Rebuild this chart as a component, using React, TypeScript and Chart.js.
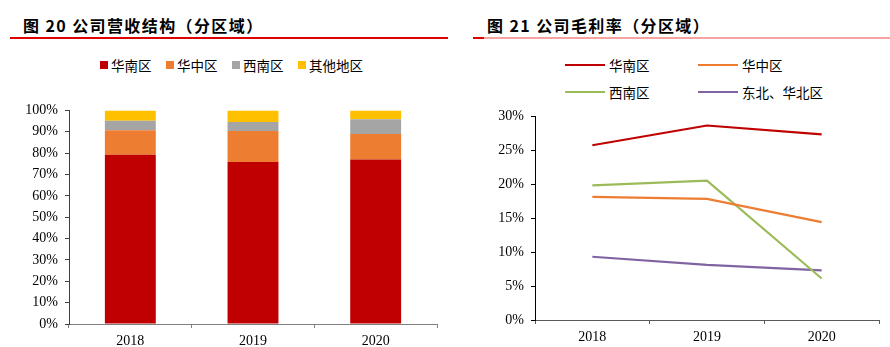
import React, { useEffect, useRef } from "react";
import { Chart, registerables } from "chart.js";

Chart.register(...registerables);

// ---- Data ----
const years = ["2018", "2019", "2020"];

const revenueRegions = ["华南区", "华中区", "西南区", "其他地区"];
const southRevenue = [0.792, 0.759, 0.770];
const centralRevenue = [0.115, 0.144, 0.119];
const southwestRevenue = [0.045, 0.043, 0.069];
const otherRevenue = [0.048, 0.054, 0.042];
const revenueColors = ["#C00000", "#ED7D31", "#A5A5A5", "#FFC000"];

const marginRegions = ["华南区", "华中区", "西南区", "东北、华北区"];
const southMargin = [0.257, 0.286, 0.273];
const centralMargin = [0.181, 0.178, 0.144];
const southwestMargin = [0.198, 0.205, 0.061];
const northMargin = [0.093, 0.081, 0.073];
const marginColors = ["#C00000", "#ED7D31", "#9BBB59", "#8064A2"];

const revenueTickStep = 0.1;
const marginTickStep = 0.05;

const title1 = "图 20 公司营收结构（分区域）";
const title2 = "图 21 公司毛利率（分区域）";

const SERIF = "'Liberation Serif', 'Times New Roman', serif";
const CJK = "'Noto Sans CJK SC', 'Noto Sans', sans-serif";

const pct = (v: number) => `${Math.round(v * 100)}%`;

function RevenueChart() {
  const ref = useRef<HTMLCanvasElement | null>(null);
  useEffect(() => {
    if (!ref.current) return;
    const series = [southRevenue, centralRevenue, southwestRevenue, otherRevenue];
    const chart = new Chart(ref.current, {
      type: "bar",
      data: {
        labels: years,
        datasets: series.map((d, i) => ({
          label: revenueRegions[i],
          data: d,
          backgroundColor: revenueColors[i],
          borderWidth: 0,
          barPercentage: 0.415,
          categoryPercentage: 1,
        })),
      },
      options: {
        animation: false,
        responsive: false,
        maintainAspectRatio: false,
        layout: { padding: { top: 13, right: 8, left: 0, bottom: 0 } },
        plugins: { legend: { display: false }, tooltip: { enabled: false } },
        scales: {
          x: {
            stacked: true,
            afterFit: (s: any) => { s.height = 23; },
            grid: { drawOnChartArea: false, drawTicks: true, tickLength: 4, color: "#808080", offset: true },
            border: { display: true, color: "#808080", width: 1 },
            ticks: { color: "#000", font: { family: SERIF, size: 14 }, padding: 5 },
          },
          y: {
            stacked: true,
            min: 0,
            max: 1,
            afterFit: (s: any) => { s.width = 69; },
            grid: { drawOnChartArea: false, drawTicks: true, tickLength: 4, color: "#404040" },
            border: { display: true, color: "#404040", width: 1 },
            ticks: { stepSize: revenueTickStep, color: "#000", font: { family: SERIF, size: 14 }, padding: 7, callback: (v: any) => pct(Number(v)) },
          },
        },
      },
    });
    return () => chart.destroy();
  }, []);
  return <canvas ref={ref} width={445} height={252} style={{ position: "absolute", left: 0, top: 95, width: 445, height: 252 }} />;
}

function MarginChart() {
  const ref = useRef<HTMLCanvasElement | null>(null);
  useEffect(() => {
    if (!ref.current) return;
    const series = [southMargin, centralMargin, southwestMargin, northMargin];
    const chart = new Chart(ref.current, {
      type: "line",
      data: {
        labels: years,
        datasets: series.map((d, i) => ({
          label: marginRegions[i],
          data: d,
          borderColor: marginColors[i],
          backgroundColor: marginColors[i],
          borderWidth: 2.2,
          pointRadius: 0,
          tension: 0,
          fill: false,
        })),
      },
      options: {
        animation: false,
        responsive: false,
        maintainAspectRatio: false,
        layout: { padding: { top: 21, right: 11, left: 0, bottom: 0 } },
        plugins: { legend: { display: false }, tooltip: { enabled: false } },
        scales: {
          x: {
            offset: true,
            afterFit: (s: any) => { s.height = 27; },
            grid: { drawOnChartArea: false, drawTicks: true, tickLength: 4, color: "#595959", offset: true },
            border: { display: true, color: "#595959", width: 1 },
            ticks: { color: "#000", font: { family: SERIF, size: 14 }, padding: 5 },
          },
          y: {
            min: 0,
            max: 0.3,
            afterFit: (s: any) => { s.width = 65; },
            grid: { drawOnChartArea: false, drawTicks: true, tickLength: 4, color: "#000" },
            border: { display: true, color: "#000", width: 1 },
            ticks: { stepSize: marginTickStep, color: "#000", font: { family: SERIF, size: 14 }, padding: 7, callback: (v: any) => pct(Number(v)) },
          },
        },
      },
    });
    return () => chart.destroy();
  }, []);
  return <canvas ref={ref} width={420} height={252} style={{ position: "absolute", left: 470, top: 95, width: 420, height: 252 }} />;
}

const titleStyle: React.CSSProperties = {
  position: "absolute",
  top: 14,
  fontFamily: CJK,
  fontWeight: 700,
  fontSize: 16,
  letterSpacing: 1.4,
  lineHeight: "22px",
  color: "#000",
  whiteSpace: "nowrap",
};

const legendText: React.CSSProperties = {
  fontFamily: CJK,
  fontSize: 13.5,
  color: "#000",
  whiteSpace: "nowrap",
  lineHeight: "18px",
};

export default function App() {
  const leftLegendX = [100, 166, 232, 298];
  const rightLegendPos = [
    [565, 65],
    [698, 65],
    [565, 92],
    [698, 92],
  ];
  return (
    <div style={{ position: "absolute", left: 0, top: 0, width: 890, height: 347, background: "#fff", overflow: "hidden" }}>
      <div style={{ ...titleStyle, left: 23 }}>{title1}</div>
      <div style={{ ...titleStyle, left: 487 }}>{title2}</div>
      <div style={{ position: "absolute", left: 10, top: 37, width: 438, height: 2, background: "#E00000" }} />
      <div style={{ position: "absolute", left: 473, top: 37, width: 11, height: 2, background: "#E00000" }} />
      <div style={{ position: "absolute", left: 484, top: 37, width: 406, height: 2, background: "#F5A3A3" }} />

      {revenueRegions.map((name, i) => (
        <div key={name} style={{ position: "absolute", left: leftLegendX[i], top: 56, height: 18, display: "flex", alignItems: "center" }}>
          <div style={{ width: 8, height: 8, background: revenueColors[i], marginRight: 3 }} />
          <span style={legendText}>{name}</span>
        </div>
      ))}

      {marginRegions.map((name, i) => (
        <div key={name} style={{ position: "absolute", left: rightLegendPos[i][0], top: rightLegendPos[i][1] - 9, height: 18, display: "flex", alignItems: "center" }}>
          <div style={{ width: 40, height: 2, background: marginColors[i], marginRight: 4 }} />
          <span style={legendText}>{name}</span>
        </div>
      ))}

      <RevenueChart />
      <MarginChart />
    </div>
  );
}
